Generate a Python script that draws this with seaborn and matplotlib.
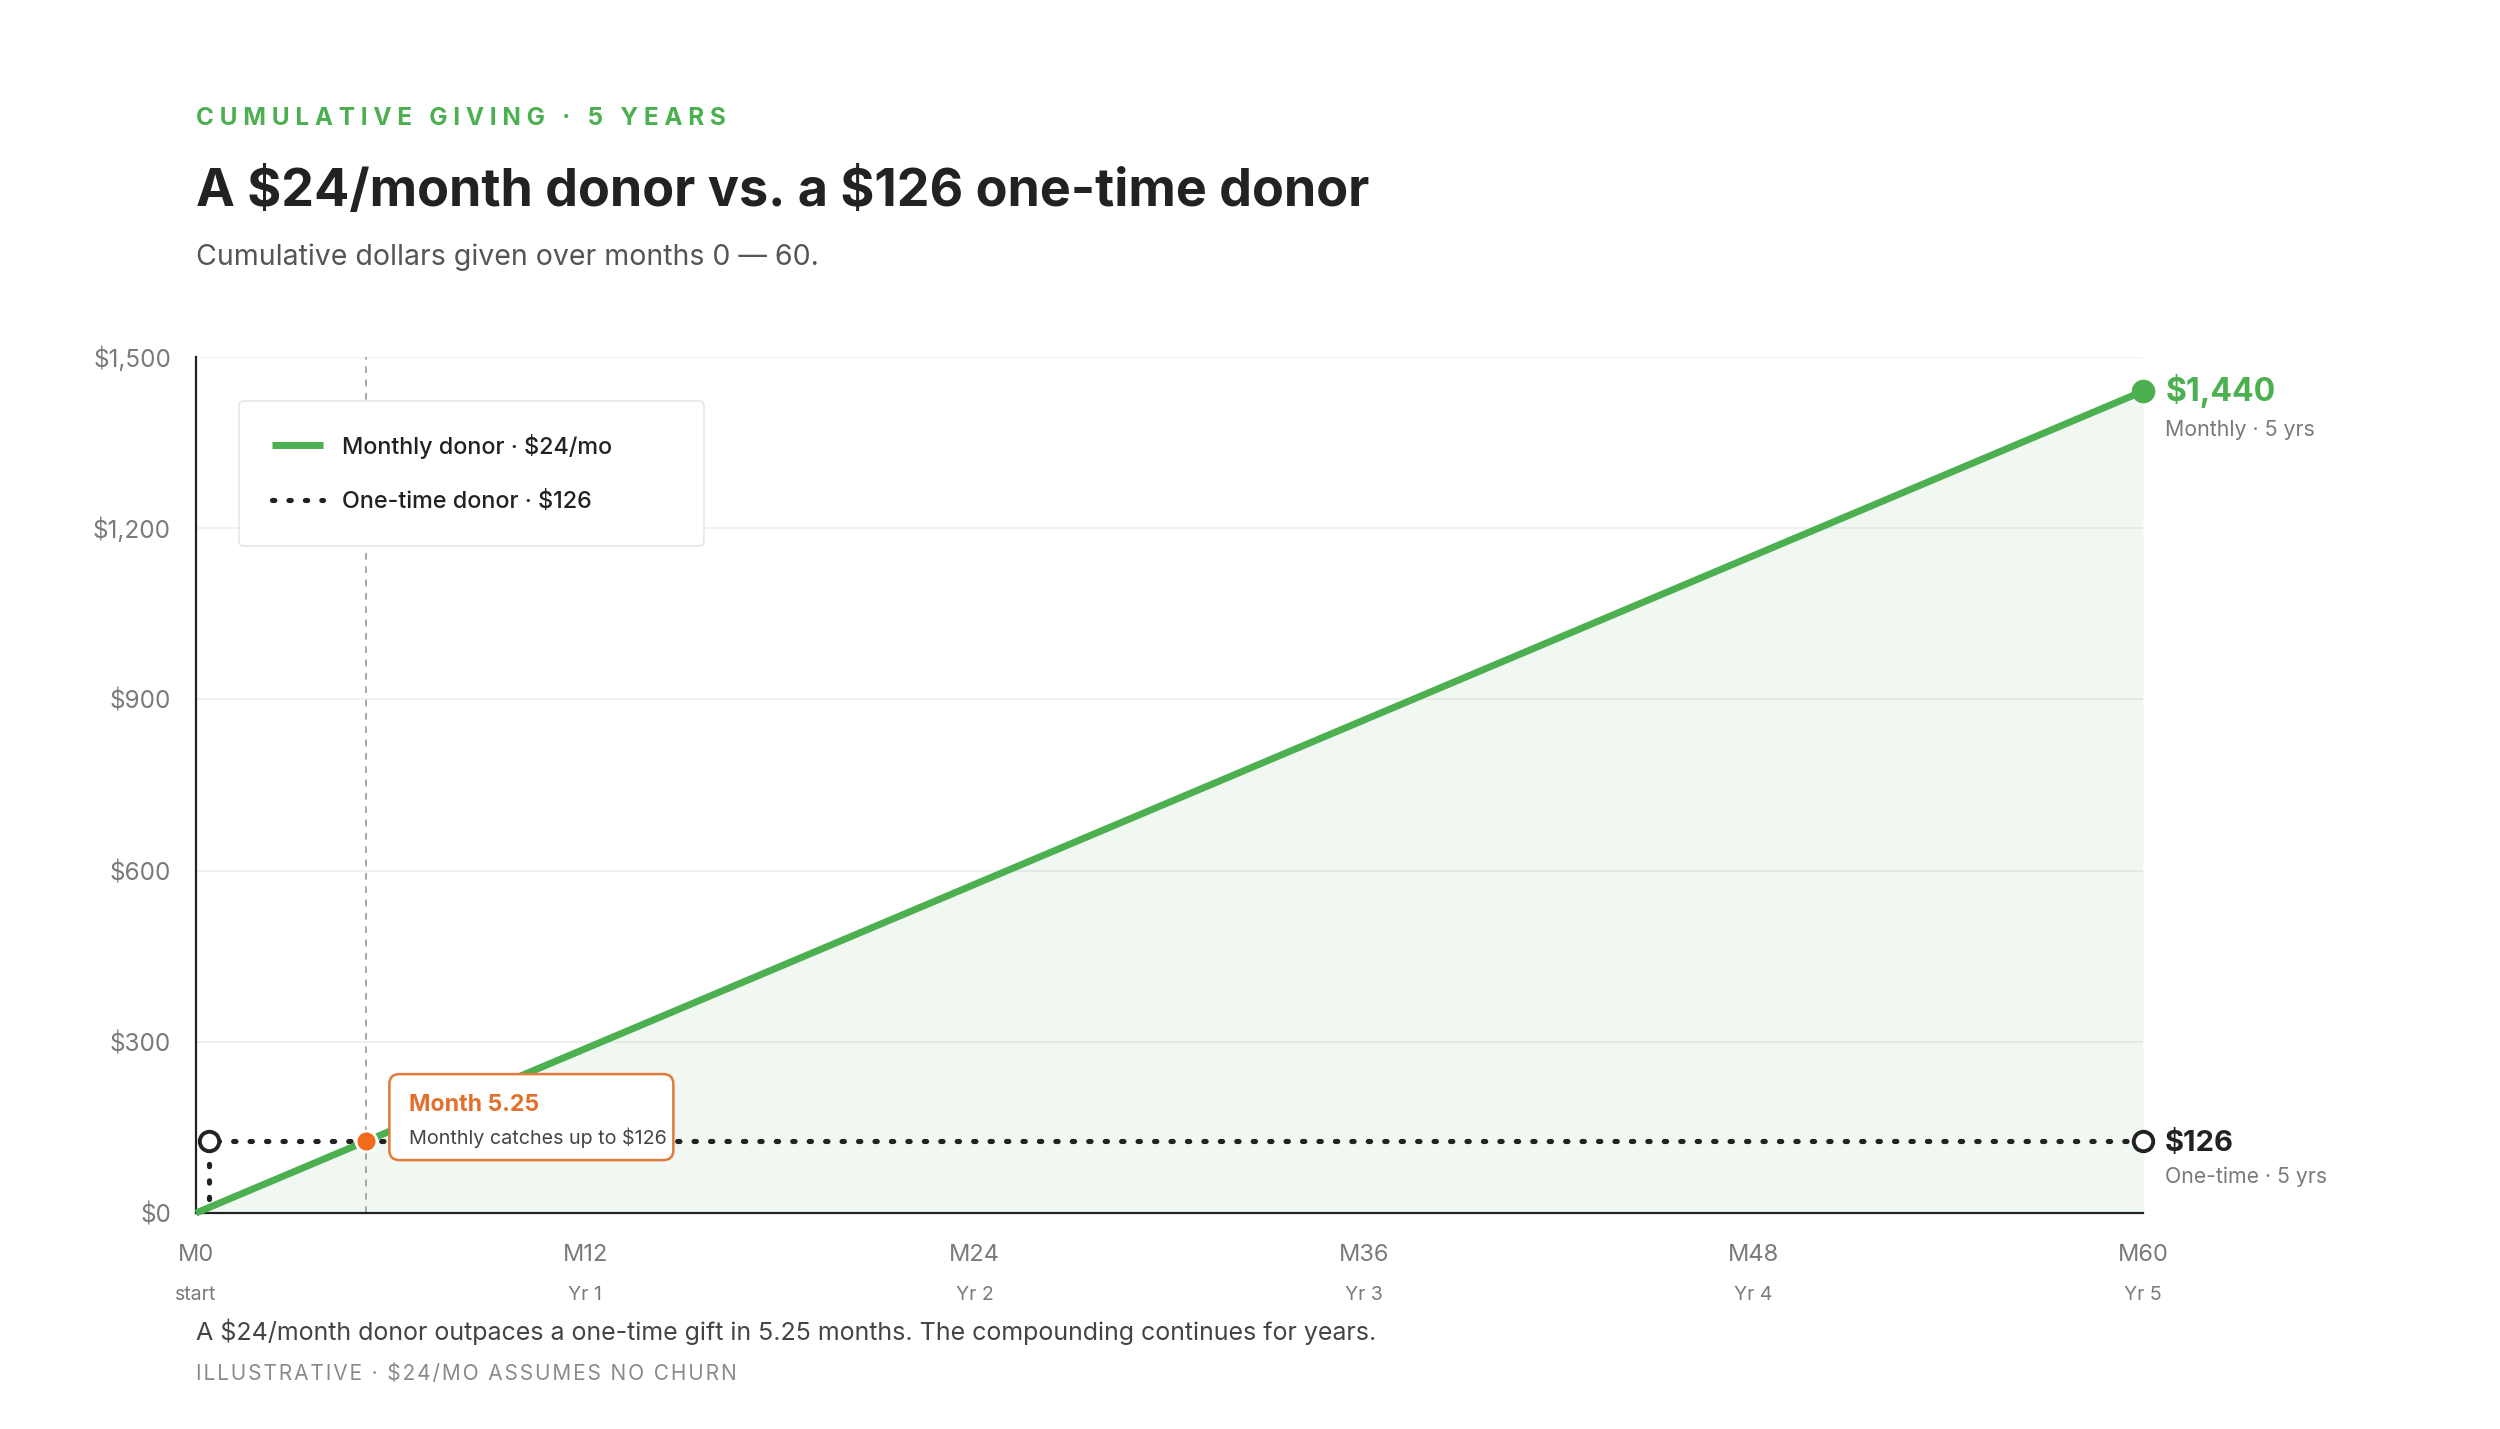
import matplotlib.pyplot as plt
import matplotlib.transforms as mtransforms
from matplotlib.patches import FancyBboxPatch
import seaborn as sns
import pandas as pd

# Data
months_monthly = [0, 60]
total_monthly = [0, 1440]
months_one_time = [60, 0.4, 0.4]
total_one_time = [126, 126, 0]
catch_month = 5.25
catch_value = 126
x_ticks = [0, 12, 24, 36, 48, 60]
x_labels = ["M0", "M12", "M24", "M36", "M48", "M60"]
x_sublabels = ["start", "Yr 1", "Yr 2", "Yr 3", "Yr 4", "Yr 5"]
y_ticks = [0, 300, 600, 900, 1200, 1500]

GREEN = "#4CAF50"
ORANGE = "#F26B1D"
DARK = "#222222"
GRAY = "#7a7a7a"

sns.set_theme(style="white")
plt.rcParams["font.family"] = ["Inter", "DejaVu Sans"]
plt.rcParams["text.parse_math"] = False

W, H = 2500, 1429
fig = plt.figure(figsize=(W / 100, H / 100), dpi=100)
fig.patch.set_facecolor("white")
ax = fig.add_axes([196 / W, 1 - 1213 / H, (2143 - 196) / W, (1213 - 357) / H])
ax.set_facecolor("white")

df_m = pd.DataFrame({"month": months_monthly, "total": total_monthly})
df_o = pd.DataFrame({"month": months_one_time, "total": total_one_time})

ax.fill_between(df_m["month"], df_m["total"], color=GREEN, alpha=0.08, lw=0, zorder=1)
ax.axvline(catch_month, color="#9a9a9a", lw=1.2, linestyle=(0, (4, 4)), zorder=2)

sns.lineplot(data=df_m, x="month", y="total", ax=ax, color=GREEN, lw=5,
             estimator=None, sort=False, zorder=4, solid_capstyle="butt", clip_on=False)
sns.lineplot(data=df_o, x="month", y="total", ax=ax, color=DARK, lw=3.7,
             estimator=None, sort=False, zorder=3, clip_on=False,
             linestyle=(0, (0.45, 2.75)), dash_capstyle="round")
line_m, line_o = ax.get_lines()[-2:]

# end markers
ax.plot(months_monthly[-1], total_monthly[-1], "o", color=GREEN, ms=16, zorder=6,
        clip_on=False)
ax.plot([months_one_time[1], months_one_time[0]], [total_one_time[1], total_one_time[0]],
        "o", ms=14, mfc="white", mec=DARK, mew=2.8, ls="none", zorder=6, clip_on=False)
ax.plot(catch_month, catch_value, "o", color=ORANGE, ms=15, mec="white", mew=2, zorder=7)

ax.set_xlim(0, 60)
ax.set_ylim(0, 1500)
ax.set_xticks(x_ticks)
ax.set_xticklabels(x_labels)
ax.set_yticks(y_ticks)
ax.yaxis.set_major_formatter(lambda v, p: f"${v:,.0f}")
ax.grid(axis="y", color="#ececec", lw=1.1, zorder=0)
ax.set_xlabel("")
ax.set_ylabel("")
for s in ["top", "right"]:
    ax.spines[s].set_visible(False)
for s in ["left", "bottom"]:
    ax.spines[s].set_color(DARK)
    ax.spines[s].set_linewidth(1.6)
ax.tick_params(axis="x", colors="#dcdcdc", length=6, width=1.2, pad=16,
               labelsize=17, labelcolor=GRAY)
ax.tick_params(axis="y", length=0, pad=18, labelsize=17.5, labelcolor=GRAY)

xt = ax.get_xaxis_transform()
for m, sub in zip(x_ticks, x_sublabels):
    ax.text(m, -(1300 - 1213) / 856, sub, transform=xt, ha="center", va="baseline",
            fontsize=14, color=GRAY)

# legend
leg = ax.legend([line_m, line_o], ["Monthly donor · $24/mo", "One-time donor · $126"],
                loc="upper left", bbox_to_anchor=(0.0221, 0.0, 0.2388, 0.9486),
                mode="expand", borderaxespad=0, fontsize=16.8, frameon=True,
                fancybox=True, borderpad=1.4, labelspacing=1.4, handlelength=2.2,
                handletextpad=0.8)
frame = leg.get_frame()
frame.set_edgecolor("#e6e6e6")
frame.set_linewidth(1.2)
frame.set_facecolor("white")
frame.set_alpha(1)
for t in leg.get_texts():
    t.set_color(DARK)
    t.set_fontweight("medium")

# end labels
ax.annotate("$1,440", (months_monthly[-1], total_monthly[-1]), xytext=(16, -7.2),
            textcoords="offset points", va="baseline", ha="left", fontsize=23,
            fontweight="bold", color=GREEN)
ax.annotate("Monthly · 5 yrs", (months_monthly[-1], total_monthly[-1]), xytext=(16, -32.4),
            textcoords="offset points", va="baseline", ha="left", fontsize=15.4, color=GRAY)
ax.annotate("$126", (months_one_time[0], total_one_time[0]), xytext=(16, -7.2),
            textcoords="offset points", va="baseline", ha="left", fontsize=21,
            fontweight="bold", color=DARK)
ax.annotate("One-time · 5 yrs", (months_one_time[0], total_one_time[0]), xytext=(16, -30.2),
            textcoords="offset points", va="baseline", ha="left", fontsize=15.3, color=GRAY)

# callout box next to the catch-up point
px, py = ax.transData.transform((catch_month, catch_value))
box = FancyBboxPatch((px + 23, py - 19), 284, 86,
                     boxstyle="round,pad=0,rounding_size=10",
                     transform=mtransforms.IdentityTransform(),
                     facecolor="white", edgecolor="#E07B39", lw=1.8, zorder=8,
                     clip_on=False)
ax.add_artist(box)
ax.annotate("Month 5.25", (catch_month, catch_value), xytext=(31, 22),
            textcoords="offset points", va="baseline", ha="left", fontsize=16.6,
            fontweight="bold", color="#E2702C", zorder=9)
ax.annotate("Monthly catches up to $126", (catch_month, catch_value), xytext=(31, -2),
            textcoords="offset points", va="baseline", ha="left", fontsize=14.2,
            color="#444444", zorder=9)

# header and footer
fig.text(196 / W, 1 - 125 / H, "\u2009\u200a".join("CUMULATIVE GIVING · 5 YEARS"),
         fontsize=17.5, fontweight="bold", color=GREEN, va="baseline")
fig.text(196 / W, 1 - 206 / H, "A $24/month donor vs. a $126 one-time donor",
         fontsize=37.5, fontweight="bold", color=DARK, va="baseline")
fig.text(196 / W, 1 - 265 / H, "Cumulative dollars given over months 0 — 60.",
         fontsize=20.5, color="#555555", va="baseline")
fig.text(196 / W, 1 - 1340 / H,
         "A $24/month donor outpaces a one-time gift in 5.25 months. The compounding continues for years.",
         fontsize=18, color="#444444", va="baseline")
fig.text(196 / W, 1 - 1380 / H, "\u200a".join("ILLUSTRATIVE · $24/MO ASSUMES NO CHURN"),
         fontsize=15, color="#8a8a8a", va="baseline")

fig.savefig("out.png", dpi=100, facecolor="white")
